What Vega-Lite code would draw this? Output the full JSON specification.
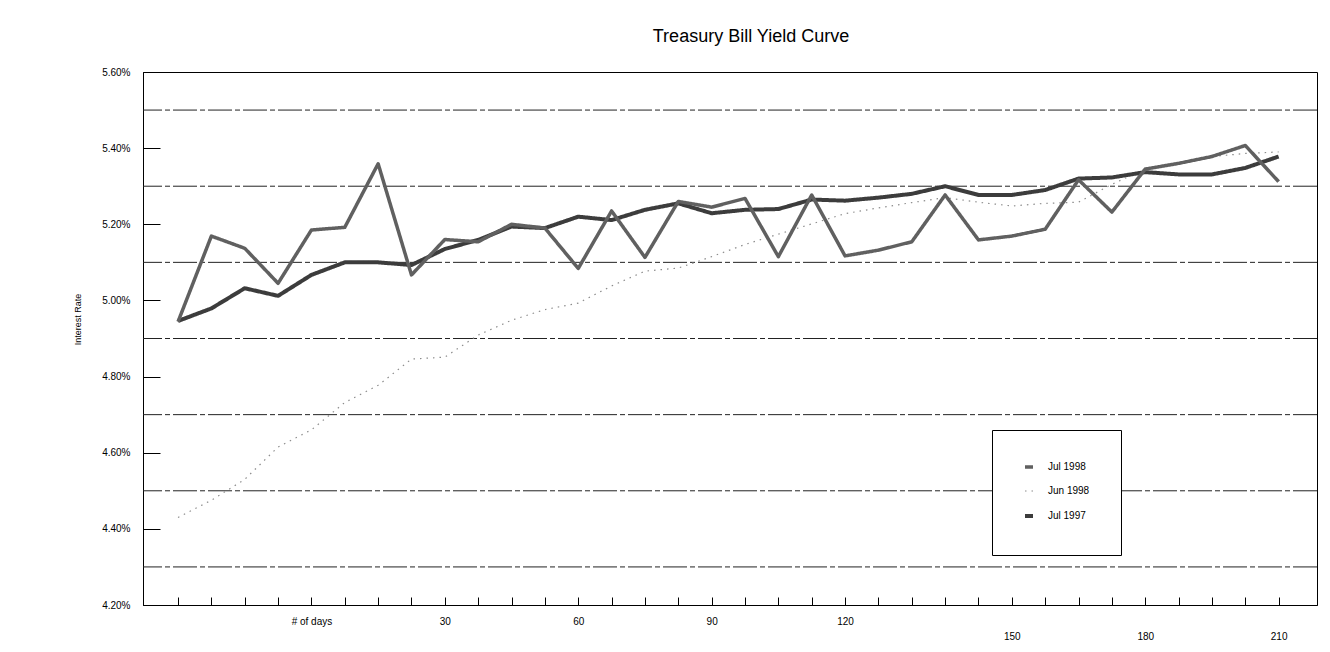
{
  "$schema": "https://vega.github.io/schema/vega-lite/v6.json",
  "autosize": {"type": "none"},
  "width": 1174,
  "height": 533,
  "padding": {"left": 143, "top": 72, "right": 13, "bottom": 47},
  "background": "white",
  "title": {"text": "Treasury Bill Yield Curve", "font": "Liberation Sans", "fontSize": 18, "fontWeight": "normal", "color": "#000", "offset": 21, "dx": 21},
  "config": {"view": {"stroke": "#000", "strokeWidth": 1}, "font": "Liberation Sans"},
  "datasets": {
    "grid": [{"g": 4.3}, {"g": 4.5}, {"g": 4.7}, {"g": 4.9}, {"g": 5.1}, {"g": 5.3}, {"g": 5.5}],
    "yields": [
      {"pt": 1, "series": "Jun 1998", "rate": 4.43},
      {"pt": 2, "series": "Jun 1998", "rate": 4.475},
      {"pt": 3, "series": "Jun 1998", "rate": 4.53},
      {"pt": 4, "series": "Jun 1998", "rate": 4.615},
      {"pt": 5, "series": "Jun 1998", "rate": 4.66},
      {"pt": 6, "series": "Jun 1998", "rate": 4.732},
      {"pt": 7, "series": "Jun 1998", "rate": 4.777},
      {"pt": 8, "series": "Jun 1998", "rate": 4.846},
      {"pt": 9, "series": "Jun 1998", "rate": 4.851},
      {"pt": 10, "series": "Jun 1998", "rate": 4.909},
      {"pt": 11, "series": "Jun 1998", "rate": 4.948},
      {"pt": 12, "series": "Jun 1998", "rate": 4.976},
      {"pt": 13, "series": "Jun 1998", "rate": 4.993},
      {"pt": 14, "series": "Jun 1998", "rate": 5.038},
      {"pt": 15, "series": "Jun 1998", "rate": 5.077},
      {"pt": 16, "series": "Jun 1998", "rate": 5.085},
      {"pt": 17, "series": "Jun 1998", "rate": 5.115},
      {"pt": 18, "series": "Jun 1998", "rate": 5.147},
      {"pt": 19, "series": "Jun 1998", "rate": 5.174},
      {"pt": 20, "series": "Jun 1998", "rate": 5.201},
      {"pt": 21, "series": "Jun 1998", "rate": 5.228},
      {"pt": 22, "series": "Jun 1998", "rate": 5.243},
      {"pt": 23, "series": "Jun 1998", "rate": 5.257},
      {"pt": 24, "series": "Jun 1998", "rate": 5.27},
      {"pt": 25, "series": "Jun 1998", "rate": 5.258},
      {"pt": 26, "series": "Jun 1998", "rate": 5.248},
      {"pt": 27, "series": "Jun 1998", "rate": 5.255},
      {"pt": 28, "series": "Jun 1998", "rate": 5.258},
      {"pt": 29, "series": "Jun 1998", "rate": 5.305},
      {"pt": 30, "series": "Jun 1998", "rate": 5.345},
      {"pt": 31, "series": "Jun 1998", "rate": 5.362},
      {"pt": 32, "series": "Jun 1998", "rate": 5.378},
      {"pt": 33, "series": "Jun 1998", "rate": 5.386},
      {"pt": 34, "series": "Jun 1998", "rate": 5.39},
      {"pt": 1, "series": "Jul 1997", "rate": 4.946},
      {"pt": 2, "series": "Jul 1997", "rate": 4.979},
      {"pt": 3, "series": "Jul 1997", "rate": 5.032},
      {"pt": 4, "series": "Jul 1997", "rate": 5.012},
      {"pt": 5, "series": "Jul 1997", "rate": 5.067},
      {"pt": 6, "series": "Jul 1997", "rate": 5.1},
      {"pt": 7, "series": "Jul 1997", "rate": 5.1},
      {"pt": 8, "series": "Jul 1997", "rate": 5.093},
      {"pt": 9, "series": "Jul 1997", "rate": 5.135},
      {"pt": 10, "series": "Jul 1997", "rate": 5.159},
      {"pt": 11, "series": "Jul 1997", "rate": 5.194},
      {"pt": 12, "series": "Jul 1997", "rate": 5.19},
      {"pt": 13, "series": "Jul 1997", "rate": 5.22},
      {"pt": 14, "series": "Jul 1997", "rate": 5.211},
      {"pt": 15, "series": "Jul 1997", "rate": 5.238},
      {"pt": 16, "series": "Jul 1997", "rate": 5.255},
      {"pt": 17, "series": "Jul 1997", "rate": 5.229},
      {"pt": 18, "series": "Jul 1997", "rate": 5.238},
      {"pt": 19, "series": "Jul 1997", "rate": 5.24},
      {"pt": 20, "series": "Jul 1997", "rate": 5.265},
      {"pt": 21, "series": "Jul 1997", "rate": 5.262},
      {"pt": 22, "series": "Jul 1997", "rate": 5.27},
      {"pt": 23, "series": "Jul 1997", "rate": 5.28},
      {"pt": 24, "series": "Jul 1997", "rate": 5.3},
      {"pt": 25, "series": "Jul 1997", "rate": 5.277},
      {"pt": 26, "series": "Jul 1997", "rate": 5.277},
      {"pt": 27, "series": "Jul 1997", "rate": 5.29},
      {"pt": 28, "series": "Jul 1997", "rate": 5.32},
      {"pt": 29, "series": "Jul 1997", "rate": 5.323},
      {"pt": 30, "series": "Jul 1997", "rate": 5.337},
      {"pt": 31, "series": "Jul 1997", "rate": 5.331},
      {"pt": 32, "series": "Jul 1997", "rate": 5.331},
      {"pt": 33, "series": "Jul 1997", "rate": 5.348},
      {"pt": 34, "series": "Jul 1997", "rate": 5.378},
      {"pt": 1, "series": "Jul 1998", "rate": 4.944},
      {"pt": 2, "series": "Jul 1998", "rate": 5.169},
      {"pt": 3, "series": "Jul 1998", "rate": 5.137},
      {"pt": 4, "series": "Jul 1998", "rate": 5.045},
      {"pt": 5, "series": "Jul 1998", "rate": 5.185},
      {"pt": 6, "series": "Jul 1998", "rate": 5.192},
      {"pt": 7, "series": "Jul 1998", "rate": 5.359},
      {"pt": 8, "series": "Jul 1998", "rate": 5.067},
      {"pt": 9, "series": "Jul 1998", "rate": 5.16},
      {"pt": 10, "series": "Jul 1998", "rate": 5.154},
      {"pt": 11, "series": "Jul 1998", "rate": 5.2},
      {"pt": 12, "series": "Jul 1998", "rate": 5.19},
      {"pt": 13, "series": "Jul 1998", "rate": 5.084},
      {"pt": 14, "series": "Jul 1998", "rate": 5.235},
      {"pt": 15, "series": "Jul 1998", "rate": 5.113},
      {"pt": 16, "series": "Jul 1998", "rate": 5.26},
      {"pt": 17, "series": "Jul 1998", "rate": 5.245},
      {"pt": 18, "series": "Jul 1998", "rate": 5.268},
      {"pt": 19, "series": "Jul 1998", "rate": 5.115},
      {"pt": 20, "series": "Jul 1998", "rate": 5.277},
      {"pt": 21, "series": "Jul 1998", "rate": 5.117},
      {"pt": 22, "series": "Jul 1998", "rate": 5.132},
      {"pt": 23, "series": "Jul 1998", "rate": 5.154},
      {"pt": 24, "series": "Jul 1998", "rate": 5.277},
      {"pt": 25, "series": "Jul 1998", "rate": 5.159},
      {"pt": 26, "series": "Jul 1998", "rate": 5.169},
      {"pt": 27, "series": "Jul 1998", "rate": 5.187},
      {"pt": 28, "series": "Jul 1998", "rate": 5.317},
      {"pt": 29, "series": "Jul 1998", "rate": 5.232},
      {"pt": 30, "series": "Jul 1998", "rate": 5.345},
      {"pt": 31, "series": "Jul 1998", "rate": 5.36},
      {"pt": 32, "series": "Jul 1998", "rate": 5.378},
      {"pt": 33, "series": "Jul 1998", "rate": 5.407},
      {"pt": 34, "series": "Jul 1998", "rate": 5.312}
    ]
  },
  "layer": [
    {
      "data": {"name": "grid"},
      "mark": {"type": "rule", "color": "#222", "strokeWidth": 1, "strokeDash": [24, 3, 5, 3]},
      "encoding": {
        "y": {
          "field": "g", "type": "quantitative",
          "scale": {"domain": [4.2, 5.6], "nice": false, "zero": false},
          "axis": {
            "values": [4.2, 4.4, 4.6, 4.8, 5.0, 5.2, 5.4, 5.6],
            "grid": false, "tickSize": -17, "tickColor": "#000", "domainColor": "#000",
            "labelExpr": "format(datum.value, '.2f') + '%'",
            "labelPadding": 30, "labelFontSize": 10, "labelColor": "#000", "labelOverlap": false, "labelFlush": false,
            "title": "Interest Rate", "titleFontSize": 9, "titleFontWeight": "normal", "titleColor": "#000",
            "titleX": -61, "titleY": 247
          }
        }
      }
    },
    {
      "data": {"name": "yields"},
      "mark": {"type": "line", "strokeJoin": "round"},
      "encoding": {
        "x": {
          "field": "pt", "type": "quantitative",
          "scale": {"domain": [-0.05, 35.15], "nice": false, "zero": false},
          "axis": {
            "values": [1,2,3,4,5,6,7,8,9,10,11,12,13,14,15,16,17,18,19,20,21,22,23,24,25,26,27,28,29,30,31,32,33,34],
            "title": null, "grid": false,
            "tickSize": -8, "tickColor": "#000", "domainColor": "#000",
            "labelExpr": "datum.value == 5 ? '# of days' : datum.value == 9 ? '30' : datum.value == 13 ? '60' : datum.value == 17 ? '90' : datum.value == 21 ? '120' : datum.value == 26 ? '150' : datum.value == 30 ? '180' : datum.value == 34 ? '210' : ''",
            "labelPadding": {"condition": {"test": "datum.value > 24", "value": 34}, "value": 19},
            "labelFontSize": 10, "labelColor": "#000", "labelOverlap": false, "labelFlush": false
          }
        },
        "y": {
          "field": "rate", "type": "quantitative",
          "scale": {"domain": [4.2, 5.6], "nice": false, "zero": false},
          "axis": {
            "values": [4.2, 4.4, 4.6, 4.8, 5.0, 5.2, 5.4, 5.6],
            "grid": false, "tickSize": -17, "tickColor": "#000", "domainColor": "#000",
            "labelExpr": "format(datum.value, '.2f') + '%'",
            "labelPadding": 30, "labelFontSize": 10, "labelColor": "#000", "labelOverlap": false, "labelFlush": false,
            "title": "Interest Rate", "titleFontSize": 9, "titleFontWeight": "normal", "titleColor": "#000",
            "titleX": -61, "titleY": 247
          }
        },
        "color": {
          "field": "series", "type": "nominal",
          "scale": {"domain": ["Jul 1998", "Jun 1998", "Jul 1997"], "range": ["#606060", "#8c8c8c", "#3c3c3c"]},
          "legend": {
            "orient": "none", "legendX": 849, "legendY": 358, "title": null, "direction": "vertical",
            "strokeColor": "#000", "fillColor": "#fff", "padding": 31, "rowPadding": 12,
            "labelFontSize": 10, "labelColor": "#000", "labelOffset": 13,
            "symbolType": "stroke", "symbolSize": 64, "symbolStrokeWidth": 3
          }
        },
        "strokeDash": {
          "field": "series", "type": "nominal",
          "scale": {"domain": ["Jul 1998", "Jun 1998", "Jul 1997"], "range": [[1, 0], [1.5, 5], [1, 0]]}
        },
        "strokeWidth": {
          "field": "series", "type": "nominal",
          "scale": {"type": "ordinal", "domain": ["Jul 1998", "Jun 1998", "Jul 1997"], "range": [3.5, 1.2, 4]},
          "legend": null
        }
      }
    }
  ]
}
